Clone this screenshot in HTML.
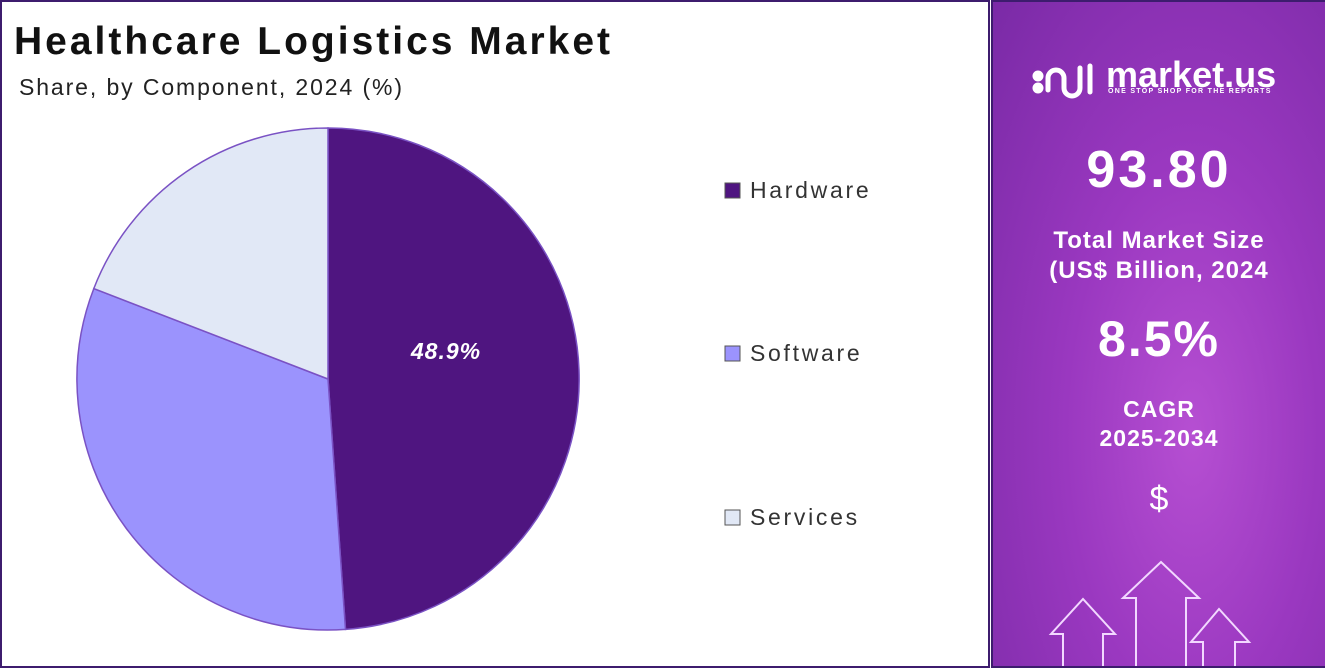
<!DOCTYPE html>
<html><head><meta charset="utf-8"><style>
body{margin:0;width:1325px;height:668px;overflow:hidden;background:#fff;font-family:"Liberation Sans",sans-serif;position:relative}
.left{position:absolute;left:0;top:0;width:986px;height:664px;border:2px solid #3d1c6e;background:#fff}
.right{position:absolute;left:991px;top:0;width:332px;height:664px;border:2px solid #3d1c6e;
background:radial-gradient(ellipse at 60% 65%,#b64fd2 0%,#9a38c0 45%,#7a2aa6 100%);color:#fff;text-align:center;overflow:hidden}
.t{position:absolute;font-weight:bold;width:100%}
</style></head><body>
<div class="left">
<div style="position:absolute;left:12px;top:18px;font-size:39px;font-weight:bold;color:#111;letter-spacing:3px">Healthcare Logistics Market</div>
<div style="position:absolute;left:17px;top:72px;font-size:23px;color:#222;letter-spacing:1.9px">Share, by Component, 2024 (%)</div>
<svg width="986" height="664" style="position:absolute;left:-2px;top:-2px">
<g stroke="#7a52c4" stroke-width="1.5">
<path d="M328,379 L328,128 A251,251 0 0 1 345.5,629.4 Z" fill="#4f1580"/>
<path d="M328,379 L345.5,629.4 A251,251 0 0 1 93.8,288.6 Z" fill="#9b93fd"/>
<path d="M328,379 L93.8,288.6 A251,251 0 0 1 328,128 Z" fill="#e1e8f6"/>
</g>
<text x="446" y="359" fill="#fff" font-size="23" font-weight="bold" font-style="italic" text-anchor="middle" font-family="Liberation Sans" letter-spacing="1">48.9%</text>
<g font-family="Liberation Sans" font-size="23" fill="#333" letter-spacing="2.7">
<rect x="725" y="183" width="15" height="15" fill="#4f1580" stroke="#555"/><text x="750" y="198">Hardware</text>
<rect x="725" y="346" width="15" height="15" fill="#9b93fd" stroke="#555"/><text x="750" y="361">Software</text>
<rect x="725" y="510" width="15" height="15" fill="#e1e8f6" stroke="#555"/><text x="750" y="525">Services</text>
</g>
</svg>
</div>
<div class="right">
<svg width="332" height="664" style="position:absolute;left:0;top:0">
<g fill="none" stroke="#fff" stroke-width="5" stroke-linecap="round">
<circle cx="45" cy="74" r="3" fill="#fff"/><circle cx="45" cy="86" r="3" fill="#fff"/>
<path d="M55,88 V76 a8,8 0 0 1 16,0 V86 a8,8 0 0 0 16,0 V66"/>
<path d="M97,64 V90"/>
</g>
<g fill="none" stroke="#f2d8ff" stroke-width="2">
<path d="M70,664 V632 H58 L90,597 L122,632 H110 V664"/>
<path d="M143,664 V596 H130 L168,560 L206,596 H193 V664"/>
<path d="M210,664 V640 H198 L226,607 L256,640 H242 V664"/>
</g>
</svg>
<div style="position:absolute;left:113px;top:52px;font-size:36px;font-weight:bold">market.us</div>
<div style="position:absolute;left:115px;top:86px;font-size:7px;font-weight:bold;letter-spacing:1.3px">ONE STOP SHOP FOR THE REPORTS</div>
<div class="t" style="top:138px;font-size:52px;letter-spacing:3px">93.80</div>
<div class="t" style="top:224px;font-size:24px;line-height:30px;letter-spacing:1px">Total Market Size<br>(US$ Billion, 2024</div>
<div class="t" style="top:308px;font-size:50px;letter-spacing:2px">8.5%</div>
<div class="t" style="top:393px;font-size:23px;line-height:29px;letter-spacing:1px">CAGR<br>2025-2034</div>
<div class="t" style="top:478px;font-size:34px;font-weight:normal">$</div>
</div>
</body></html>
